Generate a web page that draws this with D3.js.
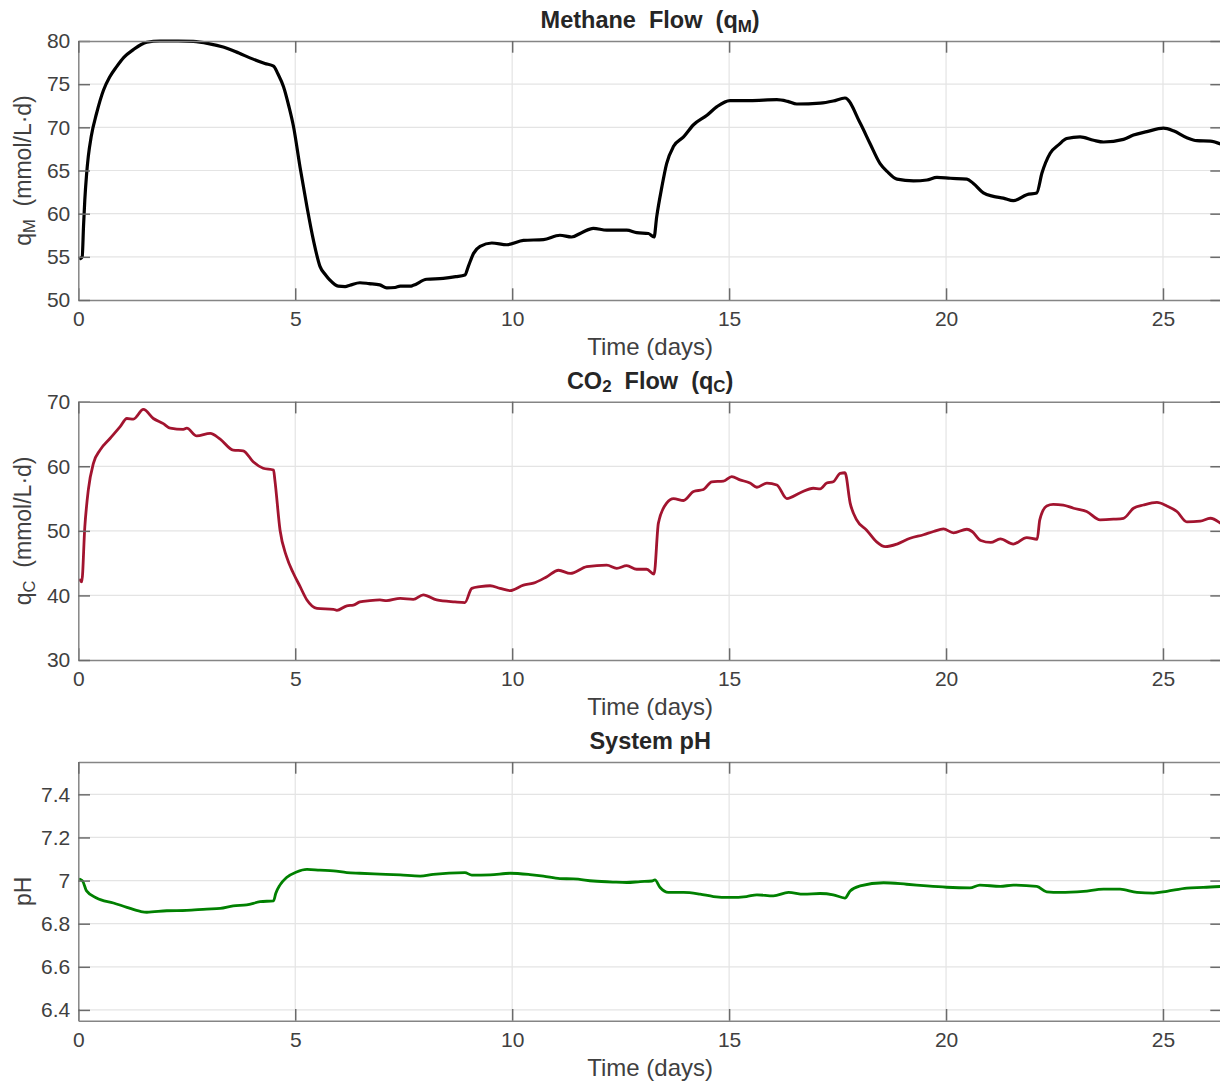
<!DOCTYPE html>
<html>
<head>
<meta charset="utf-8">
<script src="https://cdn.jsdelivr.net/npm/d3@7"></script>
<style>
  html, body { margin: 0; padding: 0; background: #fff; }
  svg { display: block; font-family: "Liberation Sans", Arial, sans-serif; }
  text { white-space: pre; }
</style>
</head>
<body>
<svg id="chart" width="1220" height="1084"></svg>
<script>
// ---- Time axis ----
const xTicks = [0, 5, 10, 15, 20, 25];
const xMax = 26.36;

// ---- Methane flow q_M (mmol/L·d) ----
const methaneDays = [0.05,0.09,0.12,0.15,0.19,0.23,0.3,0.42,0.58,0.72,0.88,1.05,1.27,1.45,1.58,1.88,2.3,2.65,3.0,3.34,3.7,4.03,4.3,4.5,4.6,4.73,4.85,4.96,5.11,5.27,5.42,5.57,5.7,5.8,5.99,6.15,6.26,6.49,6.7,6.95,7.11,7.3,7.42,7.65,7.72,8.03,8.41,8.7,8.91,8.99,9.11,9.26,9.53,9.88,10.26,10.72,11.1,11.37,11.6,11.87,12.18,12.64,12.87,13.14,13.27,13.33,13.45,13.56,13.72,13.95,14.18,14.49,14.72,15.02,15.48,16.1,16.35,16.56,17.1,17.4,17.67,18.02,18.25,18.48,18.64,18.87,19.25,19.56,19.79,20.1,20.48,20.63,20.86,21.09,21.32,21.55,21.86,22.09,22.21,22.4,22.6,22.78,23.09,23.4,23.63,24.09,24.32,24.63,25.01,25.24,25.55,25.78,26.09,26.36];
const methaneVals = [54.8,55.0,58.5,61.6,64.5,66.6,69.0,71.6,74.3,75.8,77.0,78.1,79.0,79.6,79.85,80.0,80.0,79.95,79.7,79.3,78.6,77.9,77.4,77.1,76.2,74.7,72.5,70.1,65.4,60.8,56.9,53.9,52.9,52.3,51.6,51.55,51.7,52.0,51.9,51.75,51.4,51.45,51.6,51.6,51.7,52.4,52.5,52.7,52.9,53.9,55.4,56.2,56.6,56.4,56.9,57.0,57.5,57.3,57.8,58.3,58.1,58.1,57.8,57.7,57.3,59.6,63.1,65.8,67.8,68.9,70.3,71.4,72.4,73.1,73.1,73.2,73.0,72.7,72.8,73.05,73.4,70.5,68.1,65.8,64.9,64.0,63.8,63.9,64.2,64.1,64.0,63.5,62.4,62.0,61.8,61.5,62.2,62.4,64.7,67.0,68.0,68.7,68.9,68.5,68.3,68.6,69.1,69.5,69.9,69.6,68.8,68.45,68.4,68.0];
const methaneTicks = [50, 55, 60, 65, 70, 75, 80];

// ---- CO2 flow q_C (mmol/L·d) ----
const co2Days = [0.04,0.08,0.15,0.23,0.35,0.5,0.73,0.96,1.12,1.27,1.5,1.73,1.96,2.12,2.42,2.5,2.73,3.04,3.27,3.57,3.8,4.03,4.26,4.5,4.53,4.65,4.8,4.96,5.11,5.27,5.5,5.88,5.96,6.19,6.34,6.49,6.72,6.95,7.11,7.42,7.72,7.95,8.26,8.68,8.91,9.07,9.26,9.49,9.72,9.95,10.26,10.49,10.8,11.07,11.34,11.72,12.18,12.41,12.64,12.87,13.1,13.27,13.37,13.56,13.72,13.95,14.18,14.41,14.6,14.87,15.06,15.25,15.48,15.64,15.87,16.1,16.33,16.64,16.94,17.1,17.25,17.4,17.56,17.67,17.79,17.94,18.17,18.4,18.6,18.87,19.17,19.48,19.71,19.94,20.17,20.48,20.6,20.8,21.03,21.25,21.55,21.86,22.1,22.16,22.32,22.47,22.7,22.94,23.24,23.55,23.86,24.09,24.32,24.55,24.86,25.09,25.32,25.55,25.86,26.09,26.36];
const co2Vals = [42.4,42.1,50.6,56.3,60.5,62.5,64.3,66.1,67.4,67.3,68.8,67.4,66.6,65.9,65.7,65.9,64.7,65.1,64.2,62.5,62.4,60.7,59.7,59.4,57.9,50.1,46.0,43.4,41.4,39.3,38.0,37.85,37.7,38.4,38.5,39.0,39.2,39.3,39.2,39.55,39.4,40.1,39.3,39.0,38.9,41.1,41.35,41.5,41.1,40.75,41.6,41.9,42.9,43.9,43.4,44.45,44.7,44.2,44.6,44.05,44.05,43.3,51.2,54.3,55.0,54.7,56.1,56.4,57.6,57.7,58.4,57.9,57.4,56.75,57.4,57.1,55.0,55.9,56.6,56.5,57.4,57.6,58.9,59.0,54.3,51.7,50.1,48.3,47.55,47.95,48.85,49.4,49.9,50.3,49.7,50.25,49.9,48.5,48.2,48.75,47.95,48.95,48.7,51.7,53.85,54.1,54.0,53.5,53.0,51.7,51.8,51.95,53.5,54.0,54.4,53.85,53.0,51.4,51.5,51.95,51.0];
const co2Ticks = [30, 40, 50, 60, 70];

// ---- System pH ----
const phDays = [0.04,0.1,0.19,0.42,0.81,1.12,1.43,1.58,2.04,2.5,2.96,3.27,3.57,3.88,4.19,4.5,4.55,4.65,4.8,5.03,5.27,5.57,5.88,6.19,6.49,6.95,7.42,7.88,8.18,8.91,9.07,9.49,9.95,10.41,10.72,11.1,11.41,11.87,12.33,12.64,12.95,13.22,13.29,13.41,13.6,13.95,14.33,14.64,15.02,15.4,15.64,16.02,16.37,16.72,17.1,17.4,17.67,17.79,18.02,18.56,19.09,19.56,20.01,20.55,20.78,21.25,21.55,22.09,22.32,22.63,23.17,23.63,24.01,24.4,24.78,25.09,25.55,25.93,26.36];
const phVals = [7.006,6.998,6.952,6.919,6.896,6.876,6.857,6.853,6.86,6.862,6.868,6.871,6.883,6.887,6.902,6.906,6.94,6.98,7.014,7.04,7.052,7.048,7.045,7.037,7.034,7.03,7.026,7.021,7.029,7.037,7.025,7.026,7.034,7.028,7.021,7.009,7.008,6.998,6.993,6.991,6.995,6.998,7.003,6.968,6.945,6.945,6.937,6.926,6.922,6.926,6.934,6.929,6.945,6.937,6.94,6.934,6.919,6.952,6.975,6.99,6.983,6.975,6.969,6.966,6.979,6.973,6.979,6.973,6.948,6.945,6.95,6.96,6.96,6.945,6.942,6.95,6.965,6.968,6.973];
const phTicks = [6.4, 6.6, 6.8, 7, 7.2, 7.4];
const phTickLabels = ["6.4", "6.6", "6.8", "7", "7.2", "7.4"];

// ---- Drawing ----
const svg = d3.select("#chart");
const left = 78.3, right = 1222;
const AXIS = "#858585", TICK = "#6b6b6b", GRID = "#e4e4e4", LABEL = "#404040", TITLE = "#262626";
const TICKLEN = 11.7;
const TICK_FONT = 21, TITLE_FONT = 23.5, XLABEL_FONT = 24, YLABEL_FONT = 23;

const panels = [
  { top: 41, bottom: 300, domain: [50, 80], ticks: methaneTicks, labels: methaneTicks.map(String),
    days: methaneDays, vals: methaneVals, color: "#000000", width: 3.2,
    title: [["Methane  Flow  (q", null], ["M", "sub"], [")", null]],
    ylabel: [["q", null], ["M", "sub"], ["  (mmol/L·d)", null]] },
  { top: 401.7, bottom: 660, domain: [30, 70], ticks: co2Ticks, labels: co2Ticks.map(String),
    days: co2Days, vals: co2Vals, color: "#A2142F", width: 2.8,
    title: [["CO", null], ["2", "sub"], ["  Flow  (q", null], ["C", "sub"], [")", null]],
    ylabel: [["q", null], ["C", "sub"], ["  (mmol/L·d)", null]] },
  { top: 762, bottom: 1020.7, domain: [6.35, 7.55], ticks: phTicks, labels: phTickLabels,
    days: phDays, vals: phVals, color: "#008000", width: 2.8,
    title: [["System pH", null]],
    ylabel: [["pH", null]] }
];

// text with subscripts: each subscript is shrunk and lowered, the next run returns to the baseline
function richText(sel, parts, size) {
  let lowered = false;
  parts.forEach(([txt, kind]) => {
    const t = sel.append("tspan").text(txt);
    if (kind === "sub") {
      t.attr("font-size", size * 0.72).attr("dy", size * 0.16);
      lowered = true;
    } else if (lowered) {
      t.attr("dy", -size * 0.16);
      lowered = false;
    }
  });
}

panels.forEach((p, i) => {
  const x = d3.scaleLinear().domain([0, xMax]).range([left, right]);
  const y = d3.scaleLinear().domain(p.domain).range([p.bottom, p.top]);
  const g = svg.append("g");

  // grid
  g.append("g").selectAll("line").data(xTicks.filter(d => d > 0)).join("line")
    .attr("x1", d => x(d)).attr("x2", d => x(d)).attr("y1", p.top).attr("y2", p.bottom)
    .attr("stroke", GRID).attr("stroke-width", 1.2);
  g.append("g").selectAll("line").data(p.ticks.filter(d => y(d) > p.top + 1 && y(d) < p.bottom - 1)).join("line")
    .attr("x1", left).attr("x2", right).attr("y1", d => y(d)).attr("y2", d => y(d))
    .attr("stroke", GRID).attr("stroke-width", 1.2);

  // data line
  const clipId = "clip" + i;
  svg.append("clipPath").attr("id", clipId).append("rect")
    .attr("x", left).attr("y", p.top - 2).attr("width", right - left).attr("height", p.bottom - p.top + 4);
  const pts = p.days.map((d, k) => [d, p.vals[k]]);
  g.append("path").datum(pts)
    .attr("clip-path", `url(#${clipId})`)
    .attr("fill", "none").attr("stroke", p.color).attr("stroke-width", p.width)
    .attr("stroke-linejoin", "round").attr("stroke-linecap", "round")
    .attr("d", d3.line().x(d => x(d[0])).y(d => y(d[1])).curve(d3.curveMonotoneX));

  // axes: bottom and left carry labels, top and right only inward ticks
  const bottomAxis = d3.axisBottom(x).tickValues(xTicks).tickFormat(d3.format("d"))
    .tickSizeInner(-TICKLEN).tickSizeOuter(0).tickPadding(11);
  const leftAxis = d3.axisLeft(y).tickValues(p.ticks).tickFormat((d, k) => p.labels[k])
    .tickSizeInner(-TICKLEN).tickSizeOuter(0).tickPadding(8);
  const topAxis = d3.axisTop(x).tickValues(xTicks).tickFormat("").tickSizeInner(-TICKLEN).tickSizeOuter(0);
  const rightAxis = d3.axisRight(y).tickValues(p.ticks).tickFormat("").tickSizeInner(-TICKLEN).tickSizeOuter(0);

  const styleAxis = a => {
    a.select(".domain").attr("stroke", AXIS).attr("stroke-width", 1.5);
    a.selectAll(".tick line").attr("stroke", TICK).attr("stroke-width", 1.5);
    a.selectAll(".tick text").attr("fill", LABEL).attr("font-size", TICK_FONT)
      .attr("font-family", "Liberation Sans, Arial, sans-serif");
  };
  g.append("g").attr("transform", `translate(0,${p.bottom})`).call(bottomAxis).call(styleAxis);
  g.append("g").attr("transform", `translate(${left},0)`).call(leftAxis).call(styleAxis);
  g.append("g").attr("transform", `translate(0,${p.top})`).call(topAxis).call(styleAxis);
  g.append("g").attr("transform", `translate(${right},0)`).call(rightAxis).call(styleAxis);

  // title
  const tt = svg.append("text").attr("x", (left + right) / 2).attr("y", p.top - 13)
    .attr("text-anchor", "middle").attr("font-weight", "bold").attr("font-size", TITLE_FONT).attr("fill", TITLE);
  richText(tt, p.title, TITLE_FONT);

  // x label
  svg.append("text").attr("x", (left + right) / 2).attr("y", p.bottom + 55)
    .attr("text-anchor", "middle").attr("font-size", XLABEL_FONT).attr("fill", LABEL).text("Time (days)");

  // y label
  const yl = svg.append("text").attr("transform", `translate(31,${(p.top + p.bottom) / 2}) rotate(-90)`)
    .attr("text-anchor", "middle").attr("font-size", YLABEL_FONT).attr("fill", LABEL);
  richText(yl, p.ylabel, YLABEL_FONT);
});
</script>
</body>
</html>
